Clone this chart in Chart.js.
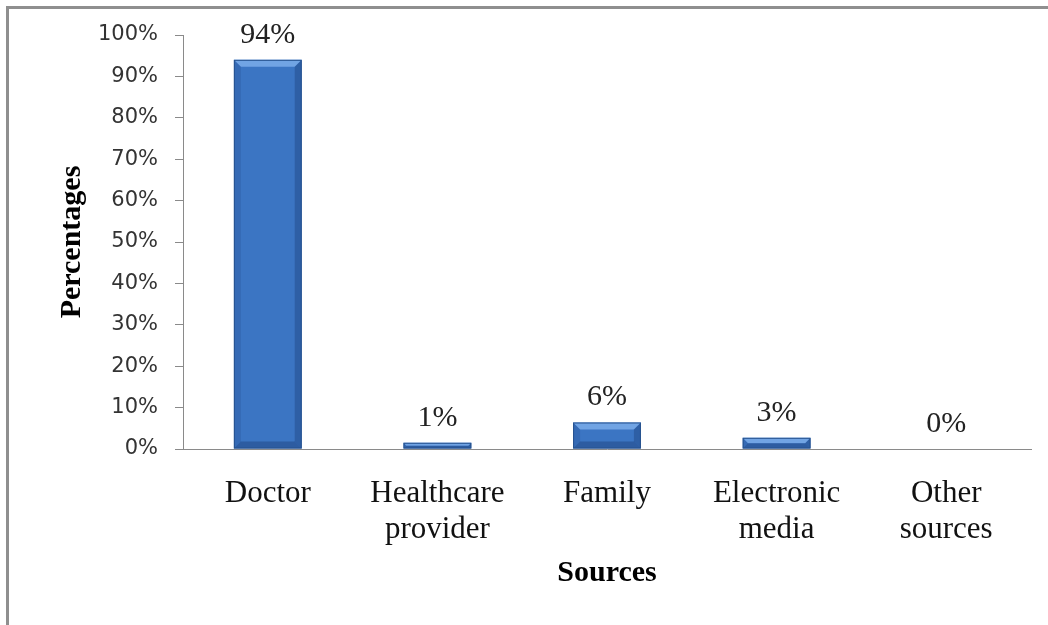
<!DOCTYPE html>
<html><head><meta charset="utf-8">
<script src="https://cdn.jsdelivr.net/npm/chart.js@4.4.0/dist/chart.umd.min.js"></script>
<style>
html,body{margin:0;padding:0;background:#fff;}
#wrap{position:relative;width:1048px;height:625px;}
#frame{position:absolute;left:6px;top:6px;right:0;bottom:0;border-top:3px solid #8f8f8f;border-left:3px solid #8f8f8f;pointer-events:none;}
</style>
</head><body><div id="wrap"><canvas id="c" width="1048" height="625"></canvas><div id="frame"></div></div>
<script>
const categories = ["Doctor", ["Healthcare", "provider"], "Family", ["Electronic", "media"], ["Other", "sources"]];
const values = [94, 1.5, 6.4, 2.7, 0];
const valueLabels = ["94%", "1%", "6%", "3%", "0%"];
const yMin = 0, yMax = 100, yStep = 10;
const yTitle = "Percentages";
const xTitle = "Sources";

const serif = "'Liberation Serif','Times New Roman',serif";
const sans = "'DejaVu Sans',Verdana,sans-serif";

const bevelAndLabels = {
  id: 'bevelAndLabels',
  afterDatasetsDraw(chart) {
    const ctx = chart.ctx;
    const meta = chart.getDatasetMeta(0);
    meta.data.forEach((bar, i) => {
      const w = bar.width, l = bar.x - w / 2, r = bar.x + w / 2, t = bar.y, b = bar.base;
      const h = b - t;
      if (h > 1) {
        const e = Math.min(7, h / 2);
        ctx.save();
        const poly = (pts, col) => { ctx.beginPath(); ctx.moveTo(pts[0][0], pts[0][1]); for (let k = 1; k < pts.length; k++) ctx.lineTo(pts[k][0], pts[k][1]); ctx.closePath(); ctx.fillStyle = col; ctx.fill(); };
        poly([[l, t], [r, t], [r - e, t + e], [l + e, t + e]], 'rgba(150,195,250,0.6)');
        poly([[l, t], [l + e, t + e], [l + e, b - e], [l, b]], 'rgba(20,50,100,0.15)');
        poly([[r, t], [r, b], [r - e, b - e], [r - e, t + e]], 'rgba(15,40,90,0.28)');
        poly([[l, b], [l + e, b - e], [r - e, b - e], [r, b]], 'rgba(15,40,90,0.32)');
        ctx.strokeStyle = '#26528f';
        ctx.lineWidth = 1;
        ctx.strokeRect(l + 0.5, t + 0.5, w - 1, h - 1);
        ctx.restore();
      }
      ctx.save();
      ctx.font = "30px " + serif;
      ctx.fillStyle = '#222';
      ctx.textAlign = 'center';
      ctx.textBaseline = 'middle';
      ctx.fillText(valueLabels[i], bar.x, bar.y - 25);
      ctx.restore();
    });
  }
};

new Chart(document.getElementById('c'), {
  type: 'bar',
  data: {
    labels: categories,
    datasets: [{
      data: values,
      backgroundColor: '#3b75c3',
      borderWidth: 0,
      barPercentage: 0.4,
      categoryPercentage: 1.0
    }]
  },
  options: {
    responsive: false,
    animation: false,
    devicePixelRatio: 1,
    layout: { padding: { left: 50, top: 35, right: 17, bottom: 34 } },
    plugins: { legend: { display: false }, tooltip: { enabled: false } },
    scales: {
      y: {
        min: yMin, max: yMax,
        afterFit(s) { s.width = 133; },
        ticks: { stepSize: yStep, padding: 17, color: '#333', font: { family: sans, size: 21 }, callback: v => v + '%' },
        grid: { display: true, drawOnChartArea: false, drawTicks: true, tickLength: 8, color: '#8a8a8a' },
        border: { display: true, color: '#8a8a8a', width: 1 },
        title: { display: true, text: yTitle, color: '#000', padding: { top: 4, bottom: 0 }, font: { family: serif, size: 30, weight: 'bold', lineHeight: 1.2 } }
      },
      x: {
        afterFit(s) { s.height = 142; },
        ticks: { padding: 27, color: '#111', font: { family: serif, size: 31, lineHeight: 1.15 } },
        grid: { display: false, drawTicks: false },
        border: { display: true, color: '#8a8a8a', width: 1 },
        title: { display: true, text: xTitle, color: '#000', padding: { top: 0, bottom: 0 }, font: { family: serif, size: 30, weight: 'bold', lineHeight: 1.2 } }
      }
    }
  },
  plugins: [bevelAndLabels]
});
</script>
</body></html>
